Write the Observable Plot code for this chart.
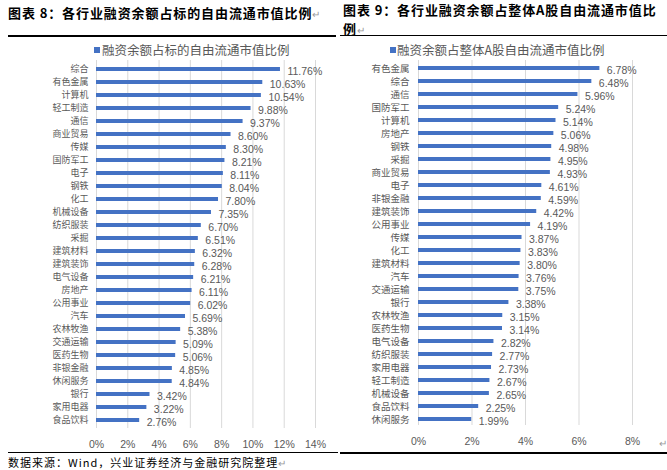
<!DOCTYPE html>
<html>
<head>
<meta charset="utf-8">
<script src="https://cdn.jsdelivr.net/npm/d3@7"></script>
<script src="https://cdn.jsdelivr.net/npm/@observablehq/plot@0.6"></script>
<style>
  html, body { margin: 0; padding: 0; background: #fff; }
  #root { position: relative; width: 667px; height: 470px; background: #fff; overflow: hidden; }
  .abs { position: absolute; white-space: nowrap; }
  .title { font-family: "Noto Sans CJK SC", sans-serif; font-weight: 700; font-size: 13px; letter-spacing: 0.9px; color: #000; line-height: 19px; }
  .mark { color: #999; font-weight: 400; font-size: 10px; }
  .legend { font-family: "Noto Sans CJK SC", sans-serif; font-size: 12.5px; color: #595959; line-height: 14px; }
  .sq { position: absolute; width: 6px; height: 6px; background: #4472C4; }
  .rule { position: absolute; height: 1.5px; background: #000; }
  .footer { font-family: "Noto Sans CJK SC", sans-serif; font-size: 11px; letter-spacing: 1px; color: #000; line-height: 14px; }
  svg { position: absolute; top: 0; }
</style>
</head>
<body>
<div id="root"></div>
<script>
// ---- Data ----
const leftCategories = ["综合","有色金属","计算机","轻工制造","通信","商业贸易","传媒","国防军工","电子","钢铁","化工","机械设备","纺织服装","采掘","建筑材料","建筑装饰","电气设备","房地产","公用事业","汽车","农林牧渔","交通运输","医药生物","非银金融","休闲服务","银行","家用电器","食品饮料"];
const leftValues = [11.76,10.63,10.54,9.88,9.37,8.60,8.30,8.21,8.11,8.04,7.80,7.35,6.70,6.51,6.32,6.28,6.21,6.11,6.02,5.69,5.38,5.09,5.06,4.85,4.84,3.42,3.22,2.76];
const leftTicks = [0,2,4,6,8,10,12,14];

const rightCategories = ["有色金属","综合","通信","国防军工","计算机","房地产","钢铁","采掘","商业贸易","电子","非银金融","建筑装饰","公用事业","传媒","化工","建筑材料","汽车","交通运输","银行","农林牧渔","医药生物","电气设备","纺织服装","家用电器","轻工制造","机械设备","食品饮料","休闲服务"];
const rightValues = [6.78,6.48,5.96,5.24,5.14,5.06,4.98,4.95,4.93,4.61,4.59,4.42,4.19,3.87,3.83,3.80,3.76,3.75,3.38,3.15,3.14,2.82,2.77,2.73,2.67,2.65,2.25,1.99];
const rightTicks = [0,2,4,6,8];

const leftTitle = "图表 8：各行业融资余额占标的自由流通市值比例";
const rightTitle1 = "图表 9：各行业融资余额占整体A股自由流通市值比";
const rightTitle2 = "例";
const leftLegend = "融资余额占标的自由流通市值比例";
const rightLegend = "融资余额占整体A股自由流通市值比例";
const footer = "数据来源：Wind，兴业证券经济与金融研究院整理";

const BAR = "#4472C4";
const GRID = "#d9d9d9";
const TXT = "#595959";

function makeChart(cats, vals, ticks, opts) {
  const data = cats.map((c, i) => ({cat: c, value: vals[i]}));
  return Plot.plot({
    width: opts.width,
    height: 470,
    marginLeft: opts.marginLeft,
    marginRight: opts.marginRight,
    marginTop: 60,
    marginBottom: opts.marginBottom,
    style: {background: "transparent", fontFamily: "'Liberation Sans', sans-serif", fontSize: "10.5px", color: TXT},
    x: {domain: [0, ticks[ticks.length - 1]], ticks: ticks, tickFormat: d => d + "%", tickSize: 0, tickPadding: 12, label: null},
    y: {domain: cats, range: opts.yRange, padding: 0.68, axis: null},
    marks: [
      Plot.ruleX(ticks, {stroke: GRID, strokeWidth: 1}),
      Plot.barX(data, {x: "value", y: "cat", fill: BAR}),
      Plot.text(data, {x: "value", y: "cat", text: d => d.value.toFixed(2) + "%", textAnchor: "start", dx: 7, dy: 2, fill: TXT, fontSize: 10.5}),
      Plot.text(data, {y: "cat", text: "cat", frameAnchor: "left", textAnchor: "end", dx: -opts.labelPad, fill: TXT, fontSize: opts.catFont, fontFamily: "'Noto Sans CJK SC', sans-serif"})
    ]
  });
}

const root = document.getElementById("root");

const left = makeChart(leftCategories, leftValues, leftTicks, {
  width: 335, marginLeft: 96, marginRight: 20, marginBottom: 42,
  yRange: [57, 432.7], labelPad: 8, catFont: 9
});
left.style.left = "0px";
root.appendChild(left);

const right = makeChart(rightCategories, rightValues, rightTicks, {
  width: 327, marginLeft: 78, marginRight: 35, marginBottom: 45,
  yRange: [56.35, 430.05], labelPad: 9, catFont: 9.5
});
right.style.left = "340px";
root.appendChild(right);

function add(html, cls, style) {
  const d = document.createElement("div");
  d.className = "abs " + cls;
  d.innerHTML = html;
  Object.assign(d.style, style);
  root.appendChild(d);
  return d;
}
const RET = '<span class="mark">↵</span>';
// titles
add(leftTitle + RET, "title", {left: "8px", top: "2.5px"});
add(rightTitle1 + "<br>" + rightTitle2 + RET, "title", {left: "343px", top: "0px"});
// top rules
add("", "rule", {left: "8px", top: "35px", width: "328px"});
add("", "rule", {left: "340px", top: "34.5px", width: "327px"});
// legends
add("", "sq", {left: "94px", top: "47px"});
add(leftLegend, "legend", {left: "102px", top: "43px"});
add("", "sq", {left: "390px", top: "47px"});
add(rightLegend, "legend", {left: "397px", top: "43px"});
// bottom rules
add("", "rule", {left: "8px", top: "451.5px", width: "330px"});
add("", "rule", {left: "340px", top: "452px", width: "327px"});
// footer
add(footer + RET, "footer", {left: "8px", top: "455px"});
add("↵", "mark", {left: "659px", top: "438px"});
</script>
</body>
</html>
